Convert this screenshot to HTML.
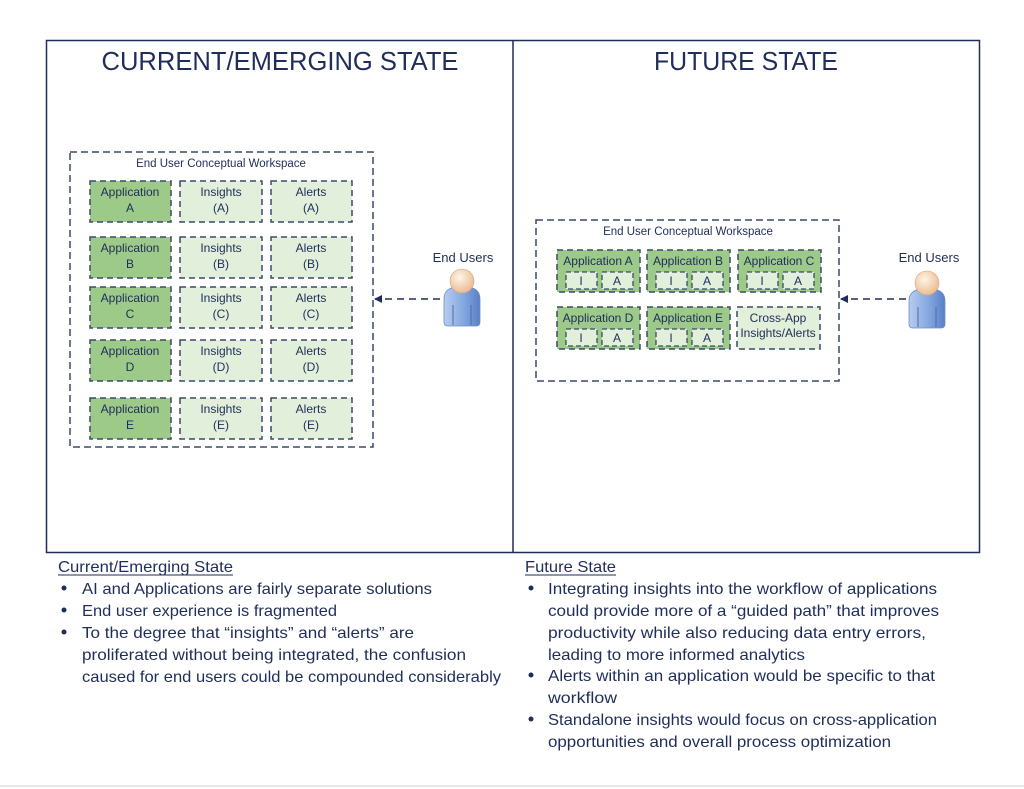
<!DOCTYPE html>
<html><head><meta charset="utf-8"><style>
html,body{margin:0;padding:0;background:#fff;}
svg{display:block;font-family:"Liberation Sans",sans-serif;}
</style></head><body>
<svg width="1024" height="789" viewBox="0 0 1024 789" xmlns="http://www.w3.org/2000/svg">
<defs>
<linearGradient id="body" x1="0" y1="0" x2="1" y2="0"><stop offset="0" stop-color="#b7cdef"/><stop offset="0.6" stop-color="#7fa3de"/><stop offset="1" stop-color="#5a7fc4"/></linearGradient>
<radialGradient id="head" cx="0.4" cy="0.35" r="0.7"><stop offset="0" stop-color="#fff4e6"/><stop offset="1" stop-color="#e9b98d"/></radialGradient>
<g id="person">
<path d="M0 30 Q0 20 11 18 L25 18 Q36 20 36 30 L36 53 Q36 57 32 57 L4 57 Q0 57 0 53 Z" fill="url(#body)" stroke="#6b8fcc" stroke-width="0.8"/>
<line x1="9" y1="36" x2="9" y2="56" stroke="#4e6ca8" stroke-width="1"/>
<line x1="27" y1="36" x2="27" y2="56" stroke="#4e6ca8" stroke-width="1"/>
<circle cx="18" cy="12" r="12" fill="url(#head)" stroke="#d7a77c" stroke-width="0.6"/>
</g>
<marker id="ar" markerWidth="8" markerHeight="8" refX="7" refY="4" orient="auto" markerUnits="userSpaceOnUse"><path d="M0 0 L8 4 L0 8 Z" fill="#1f2d5a"/></marker>
</defs>
<rect x="0" y="0" width="1024" height="789" fill="#fff"/>
<line x1="0" y1="786" x2="1024" y2="786" stroke="#e6e6e6" stroke-width="2"/>
<rect x="46.5" y="40.5" width="933" height="512" fill="none" stroke="#1f2d5a" stroke-width="1.5"/>
<line x1="513" y1="40" x2="513" y2="552" stroke="#1f2d5a" stroke-width="1.5"/>
<text x="280" y="70" font-size="26" fill="#1f2d5a" text-anchor="middle" textLength="357" lengthAdjust="spacingAndGlyphs">CURRENT/EMERGING STATE</text>
<text x="746" y="70" font-size="26" fill="#1f2d5a" text-anchor="middle" textLength="184" lengthAdjust="spacingAndGlyphs">FUTURE STATE</text>

<g stroke="#3a4a6a" stroke-width="1.5" stroke-dasharray="7,4">
<rect x="70" y="152" width="303" height="295" fill="none"/>
<rect x="536" y="220" width="303" height="161" fill="none"/>
</g>
<text x="221" y="167" font-size="11.5" fill="#1f2d5a" text-anchor="middle">End User Conceptual Workspace</text>
<text x="688" y="235" font-size="11.5" fill="#1f2d5a" text-anchor="middle">End User Conceptual Workspace</text>

<g stroke="#3a4a6a" stroke-width="1.5" stroke-dasharray="6,4">
<g transform="translate(0,181)"><rect x="90" y="0" width="81" height="41" fill="#9dc989"/><rect x="180" y="0" width="82" height="41" fill="#e2efda"/><rect x="271" y="0" width="81" height="41" fill="#e2efda"/></g>
<g transform="translate(0,237)"><rect x="90" y="0" width="81" height="41" fill="#9dc989"/><rect x="180" y="0" width="82" height="41" fill="#e2efda"/><rect x="271" y="0" width="81" height="41" fill="#e2efda"/></g>
<g transform="translate(0,287)"><rect x="90" y="0" width="81" height="41" fill="#9dc989"/><rect x="180" y="0" width="82" height="41" fill="#e2efda"/><rect x="271" y="0" width="81" height="41" fill="#e2efda"/></g>
<g transform="translate(0,340)"><rect x="90" y="0" width="81" height="41" fill="#9dc989"/><rect x="180" y="0" width="82" height="41" fill="#e2efda"/><rect x="271" y="0" width="81" height="41" fill="#e2efda"/></g>
<g transform="translate(0,398)"><rect x="90" y="0" width="81" height="41" fill="#9dc989"/><rect x="180" y="0" width="82" height="41" fill="#e2efda"/><rect x="271" y="0" width="81" height="41" fill="#e2efda"/></g>
<rect x="557" y="250" width="83" height="42" fill="#9dc989"/><rect x="647" y="250" width="83" height="42" fill="#9dc989"/><rect x="738" y="250" width="83" height="42" fill="#9dc989"/>
<rect x="557" y="307" width="83" height="42" fill="#9dc989"/><rect x="647" y="307" width="83" height="42" fill="#9dc989"/><rect x="737" y="307" width="83" height="42" fill="#e2efda"/>
</g>
<g stroke="#3a4a6a" stroke-width="1.3" stroke-dasharray="5,3" fill="#e2efda">
<rect x="566" y="272" width="31" height="17"/><rect x="602" y="272" width="31" height="17"/>
<rect x="656" y="272" width="31" height="17"/><rect x="692" y="272" width="31" height="17"/>
<rect x="747" y="272" width="31" height="17"/><rect x="783" y="272" width="31" height="17"/>
<rect x="566" y="329" width="31" height="17"/><rect x="602" y="329" width="31" height="17"/>
<rect x="656" y="329" width="31" height="17"/><rect x="692" y="329" width="31" height="17"/>
</g>
<g font-size="12" fill="#1f2d5a" text-anchor="middle">
<text x="130" y="196">Application</text><text x="130" y="212">A</text><text x="221" y="196">Insights</text><text x="221" y="212">(A)</text><text x="311" y="196">Alerts</text><text x="311" y="212">(A)</text>
<text x="130" y="252">Application</text><text x="130" y="268">B</text><text x="221" y="252">Insights</text><text x="221" y="268">(B)</text><text x="311" y="252">Alerts</text><text x="311" y="268">(B)</text>
<text x="130" y="302">Application</text><text x="130" y="318">C</text><text x="221" y="302">Insights</text><text x="221" y="318">(C)</text><text x="311" y="302">Alerts</text><text x="311" y="318">(C)</text>
<text x="130" y="355">Application</text><text x="130" y="371">D</text><text x="221" y="355">Insights</text><text x="221" y="371">(D)</text><text x="311" y="355">Alerts</text><text x="311" y="371">(D)</text>
<text x="130" y="413">Application</text><text x="130" y="429">E</text><text x="221" y="413">Insights</text><text x="221" y="429">(E)</text><text x="311" y="413">Alerts</text><text x="311" y="429">(E)</text>
<text x="598" y="265">Application A</text><text x="688" y="265">Application B</text><text x="779" y="265">Application C</text>
<text x="598" y="322">Application D</text><text x="688" y="322">Application E</text>
<text x="778" y="322">Cross-App</text><text x="778" y="337">Insights/Alerts</text>
<text x="581" y="285">I</text><text x="617" y="285">A</text><text x="671" y="285">I</text><text x="707" y="285">A</text><text x="762" y="285">I</text><text x="798" y="285">A</text>
<text x="581" y="342">I</text><text x="617" y="342">A</text><text x="671" y="342">I</text><text x="707" y="342">A</text>
</g>

<line x1="440" y1="299" x2="375" y2="299" stroke="#1f2d5a" stroke-width="1.5" stroke-dasharray="7,5" marker-end="url(#ar)"/>
<line x1="906" y1="299" x2="841" y2="299" stroke="#1f2d5a" stroke-width="1.5" stroke-dasharray="7,5" marker-end="url(#ar)"/>
<use href="#person" x="444" y="269"/>
<use href="#person" x="909" y="271"/>
<text x="463" y="262" font-size="13" fill="#1f2d5a" text-anchor="middle">End Users</text>
<text x="929" y="262" font-size="13" fill="#1f2d5a" text-anchor="middle">End Users</text>

<g font-size="16" fill="#1f2d5a" lengthAdjust="spacingAndGlyphs">
<text x="58" y="572" textLength="175" lengthAdjust="spacingAndGlyphs">Current/Emerging State</text>
<line x1="58" y1="575" x2="233" y2="575" stroke="#1f2d5a" stroke-width="1"/>
<circle cx="64" cy="588" r="2.5"/><circle cx="64" cy="610" r="2.5"/><circle cx="64" cy="632" r="2.5"/>
<text x="82" y="594" textLength="350" lengthAdjust="spacingAndGlyphs">AI and Applications are fairly separate solutions</text>
<text x="82" y="616" textLength="255" lengthAdjust="spacingAndGlyphs">End user experience is fragmented</text>
<text x="82" y="638" textLength="332" lengthAdjust="spacingAndGlyphs">To the degree that “insights” and “alerts” are</text>
<text x="82" y="660" textLength="384" lengthAdjust="spacingAndGlyphs">proliferated without being integrated, the confusion</text>
<text x="82" y="682" textLength="419" lengthAdjust="spacingAndGlyphs">caused for end users could be compounded considerably</text>

<text x="525" y="572" textLength="91" lengthAdjust="spacingAndGlyphs">Future State</text>
<line x1="525" y1="575" x2="616" y2="575" stroke="#1f2d5a" stroke-width="1"/>
<circle cx="531" cy="588" r="2.5"/><circle cx="531" cy="675" r="2.5"/><circle cx="531" cy="719" r="2.5"/>
<text x="548" y="594" textLength="389" lengthAdjust="spacingAndGlyphs">Integrating insights into the workflow of applications</text>
<text x="548" y="616" textLength="391" lengthAdjust="spacingAndGlyphs">could provide more of a “guided path” that improves</text>
<text x="548" y="638" textLength="378" lengthAdjust="spacingAndGlyphs">productivity while also reducing data entry errors,</text>
<text x="548" y="660" textLength="257" lengthAdjust="spacingAndGlyphs">leading to more informed analytics</text>
<text x="548" y="681" textLength="387" lengthAdjust="spacingAndGlyphs">Alerts within an application would be specific to that</text>
<text x="548" y="703" textLength="69" lengthAdjust="spacingAndGlyphs">workflow</text>
<text x="548" y="725" textLength="389" lengthAdjust="spacingAndGlyphs">Standalone insights would focus on cross-application</text>
<text x="548" y="747" textLength="343" lengthAdjust="spacingAndGlyphs">opportunities and overall process optimization</text>
</g>
</svg>
</body></html>
